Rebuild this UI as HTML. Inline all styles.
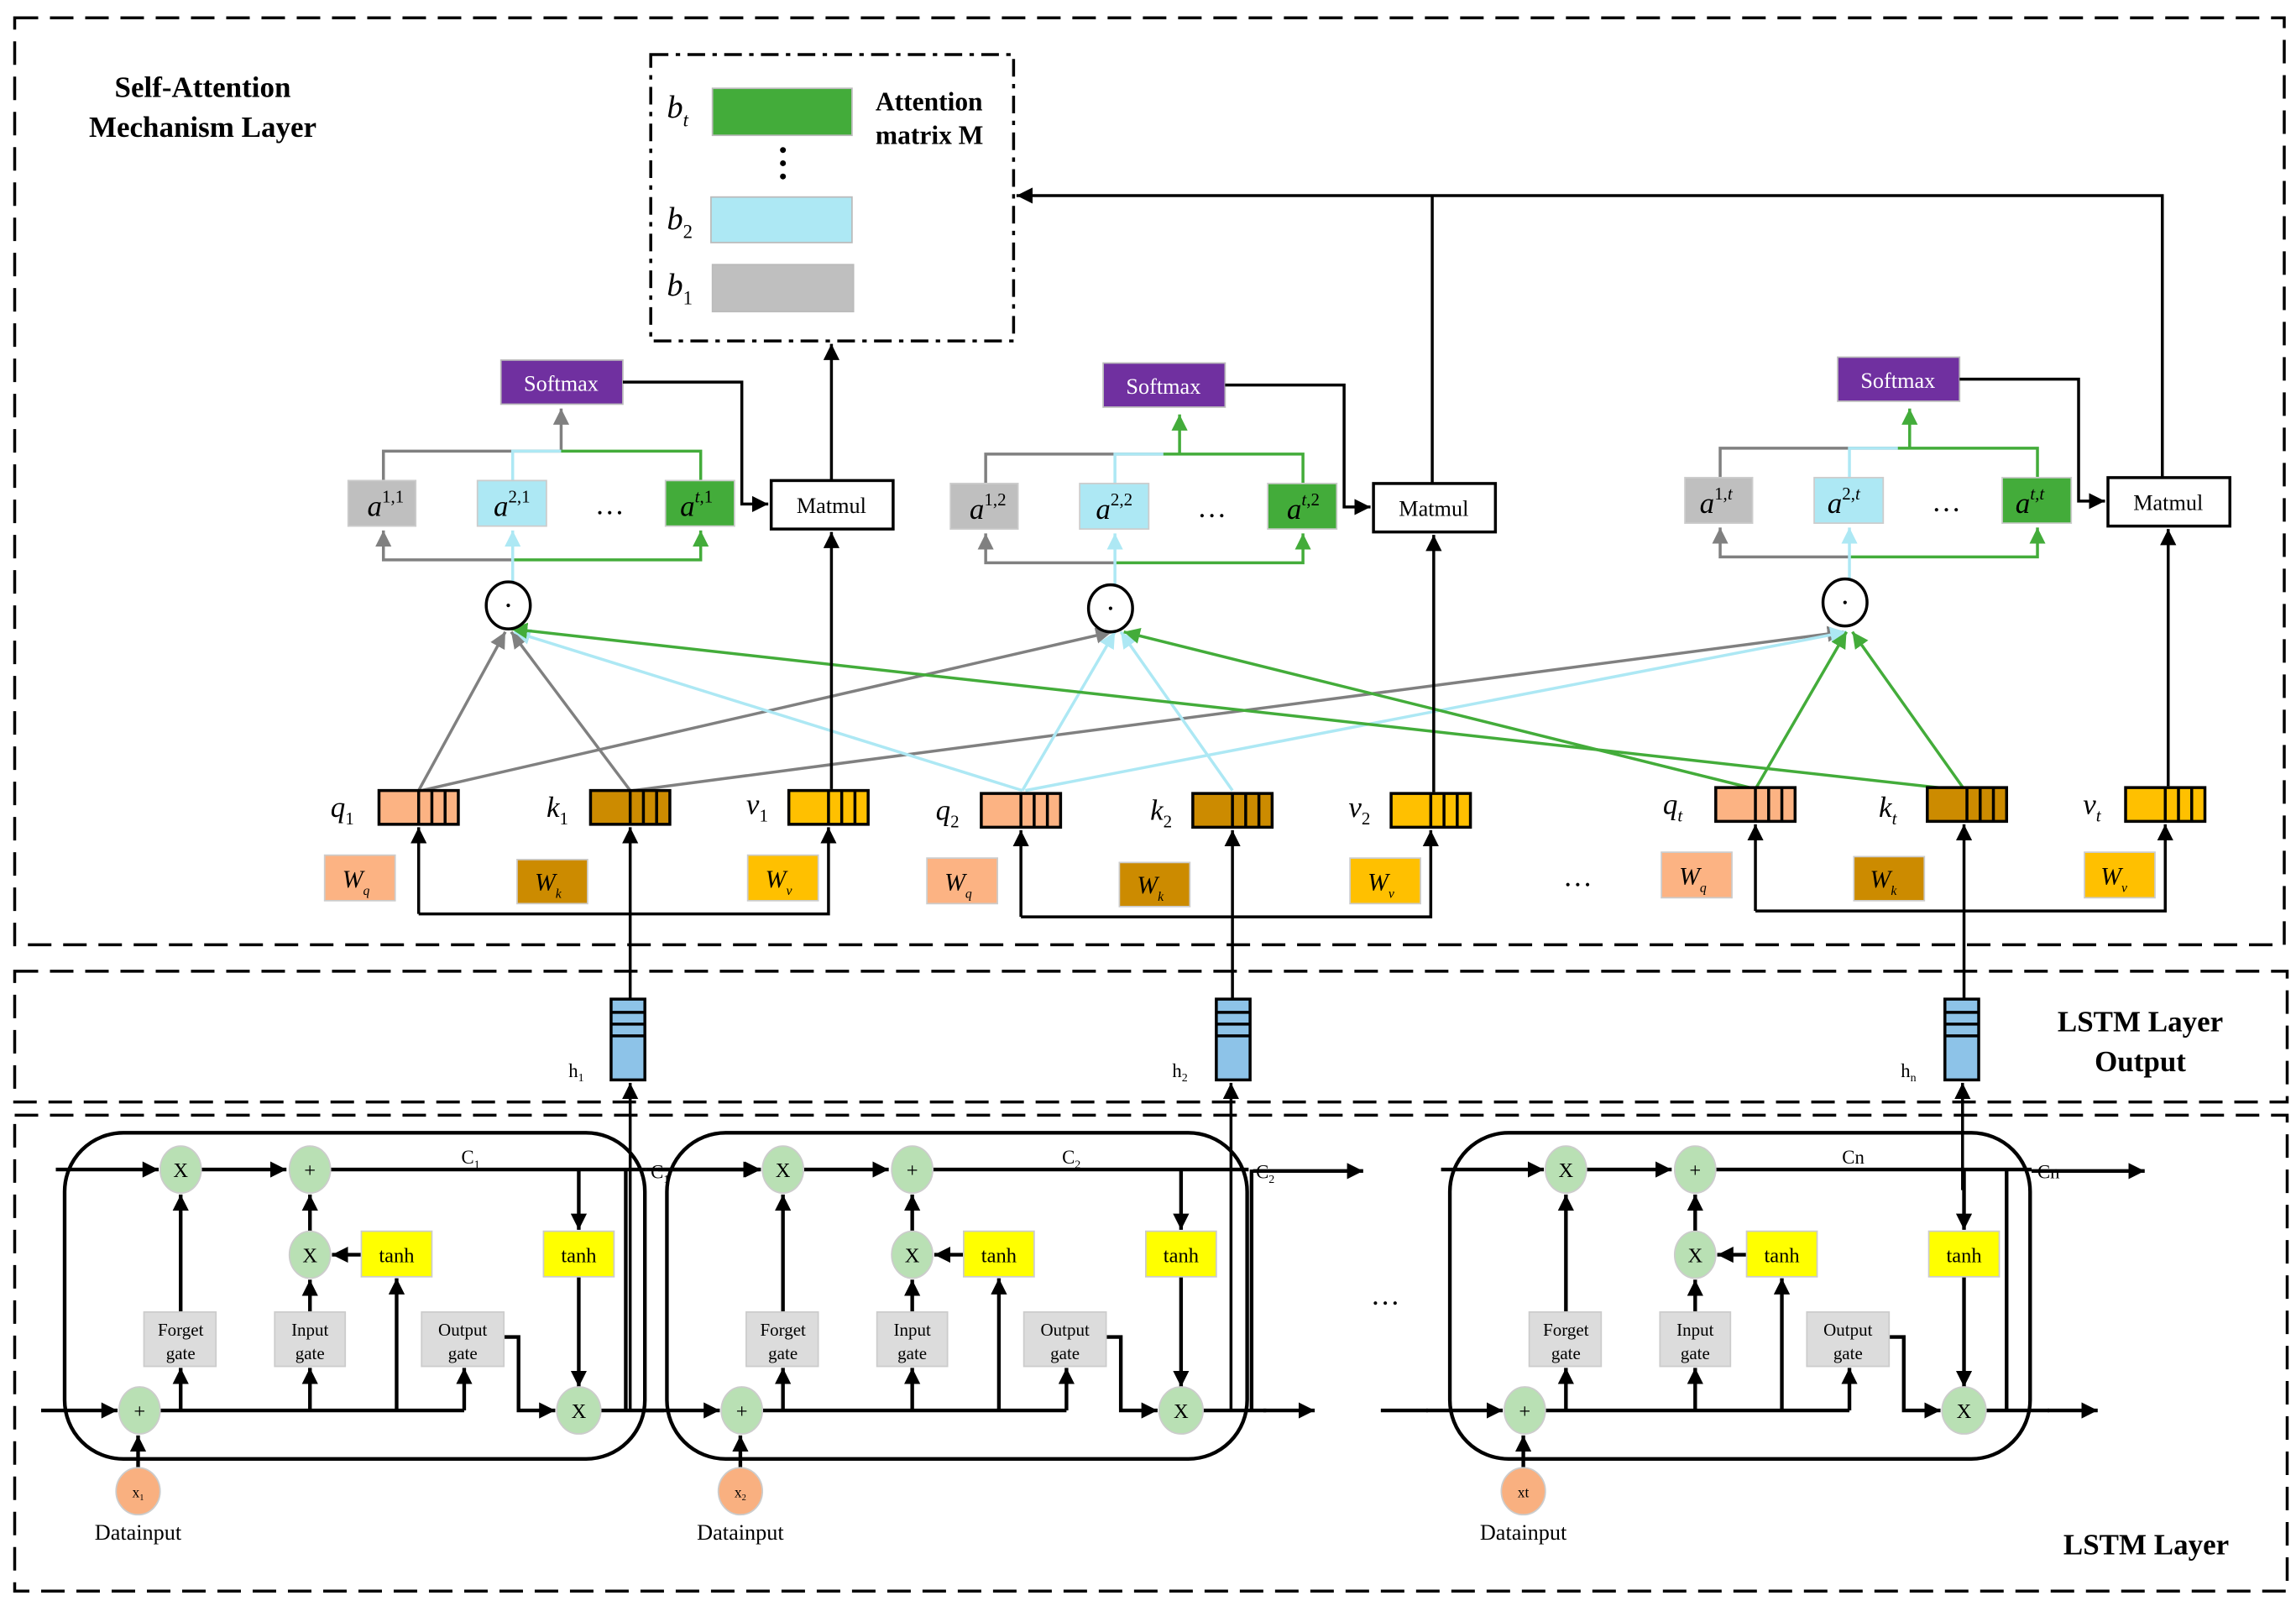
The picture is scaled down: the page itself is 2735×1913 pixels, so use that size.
<!DOCTYPE html>
<html><head><meta charset="utf-8"><style>
html,body{margin:0;padding:0;background:#fff}
svg{display:block}
</style></head><body>
<svg width="2735" height="1913" viewBox="0 0 1563 1093" xmlns="http://www.w3.org/2000/svg" font-family="'Liberation Serif', serif">
<defs>
<marker id="ak" viewBox="0 0 10 10" refX="10" refY="5" markerWidth="11" markerHeight="11" markerUnits="userSpaceOnUse" orient="auto"><path d="M0,0L10,5L0,10z" fill="#000"/></marker>
<marker id="ag" viewBox="0 0 10 10" refX="10" refY="5" markerWidth="11" markerHeight="11" markerUnits="userSpaceOnUse" orient="auto"><path d="M0,0L10,5L0,10z" fill="#808080"/></marker>
<marker id="ab" viewBox="0 0 10 10" refX="10" refY="5" markerWidth="11" markerHeight="11" markerUnits="userSpaceOnUse" orient="auto"><path d="M0,0L10,5L0,10z" fill="#ADE8F4"/></marker>
<marker id="agr" viewBox="0 0 10 10" refX="10" refY="5" markerWidth="11" markerHeight="11" markerUnits="userSpaceOnUse" orient="auto"><path d="M0,0L10,5L0,10z" fill="#43AC3A"/></marker>
</defs>

<g fill="none" stroke="#000" stroke-width="2" stroke-dasharray="16,8">
<rect x="10" y="12" width="1545" height="631"/>
<rect x="10" y="661" width="1547" height="89"/>
<rect x="10" y="759" width="1547" height="324"/>
</g>
<text x="138" y="66" font-size="20" font-weight="bold" text-anchor="middle">Self-Attention</text>
<text x="138" y="93" font-size="20" font-weight="bold" text-anchor="middle">Mechanism Layer</text>
<text x="1457" y="702" font-size="20" font-weight="bold" text-anchor="middle">LSTM Layer</text>
<text x="1457" y="729" font-size="20" font-weight="bold" text-anchor="middle">Output</text>
<text x="1461" y="1058" font-size="20" font-weight="bold" text-anchor="middle">LSTM Layer</text>

<rect x="443" y="37" width="247" height="195" fill="none" stroke="#000" stroke-width="2" stroke-dasharray="12,5,3,5"/>
<rect x="485" y="60" width="95" height="32" fill="#43AC3A" stroke="#bbb"/>
<rect x="484" y="134" width="96" height="31" fill="#ADE8F4" stroke="#bbb"/>
<rect x="485" y="180" width="96" height="32" fill="#BFBFBF" stroke="#bbb"/>
<circle cx="533" cy="102" r="2" fill="#000"/><circle cx="533" cy="111" r="2" fill="#000"/><circle cx="533" cy="120" r="2" fill="#000"/>
<text x="454" y="80" font-size="22" font-style="italic">b<tspan font-size="13" dy="6">t</tspan></text>
<text x="454" y="156" font-size="22" font-style="italic">b<tspan font-size="13" dy="6" font-style="normal">2</tspan></text>
<text x="454" y="201" font-size="22" font-style="italic">b<tspan font-size="13" dy="6" font-style="normal">1</tspan></text>
<text x="596" y="75" font-size="18" font-weight="bold">Attention</text>
<text x="596" y="98" font-size="18" font-weight="bold">matrix M</text>

<g fill="none" stroke="#000" stroke-width="2">
<path d="M566,327V234" marker-end="url(#ak)"/>
<path d="M1472,327V133H692" marker-end="url(#ak)"/>
<path d="M975,330V133"/>
</g>

<g fill="none" stroke-width="2">
<path d="M285,538L344,430" stroke="#808080" marker-end="url(#ag)"/>
<path d="M429,538L348,430" stroke="#808080" marker-end="url(#ag)"/>
<path d="M287,538L757,430" stroke="#808080" marker-end="url(#ag)"/>
<path d="M431,538L1255,430" stroke="#808080" marker-end="url(#ag)"/>
<path d="M696,538L350,430" stroke="#ADE8F4" marker-end="url(#ab)"/>
<path d="M696,538L759,430" stroke="#ADE8F4" marker-end="url(#ab)"/>
<path d="M839,538L763,430" stroke="#ADE8F4" marker-end="url(#ab)"/>
<path d="M698,538L1257,430" stroke="#ADE8F4" marker-end="url(#ab)"/>
<path d="M1337,538L348,428" stroke="#43AC3A" marker-end="url(#agr)"/>
<path d="M1195,537L765,430" stroke="#43AC3A" marker-end="url(#agr)"/>
<path d="M1195,537L1257,430" stroke="#43AC3A" marker-end="url(#agr)"/>
<path d="M1337,537L1261,430" stroke="#43AC3A" marker-end="url(#agr)"/>
</g>

<path d="M382,307V278" fill="none" stroke="#808080" stroke-width="2" marker-end="url(#ag)"/>
<path d="M803,309V282" fill="none" stroke="#43AC3A" stroke-width="2" marker-end="url(#agr)"/>
<path d="M1300,305V278" fill="none" stroke="#43AC3A" stroke-width="2" marker-end="url(#agr)"/>

<g id="blk">
<rect x="341" y="245" width="83" height="30" fill="#7030A0" stroke="#bbb"/>
<text x="382" y="266" font-size="15" fill="#fff" text-anchor="middle">Softmax</text>
<g fill="none" stroke-width="2">
<path d="M261,327V307H382" stroke="#808080"/>
<path d="M349,327V307H382" stroke="#ADE8F4"/>
<path d="M382,307H477V327" stroke="#43AC3A"/>
<path d="M349,381H261V361" stroke="#808080" marker-end="url(#ag)"/>
<path d="M349,381H477V361" stroke="#43AC3A" marker-end="url(#agr)"/>
<path d="M349,396V361" stroke="#ADE8F4" marker-end="url(#ab)"/>
<path d="M424,260H505V343H523" stroke="#000" marker-end="url(#ak)"/>
<path d="M566,537V362" stroke="#000" marker-end="url(#ak)"/>
<path d="M285,622V563" stroke="#000" marker-end="url(#ak)"/>
<path d="M285,622H564V563" stroke="#000" marker-end="url(#ak)"/>
</g>
<rect x="237" y="327" width="46" height="31" fill="#BFBFBF" stroke="#ccc"/>
<rect x="325" y="327" width="47" height="31" fill="#ADE8F4" stroke="#ccc"/>
<rect x="453" y="327" width="47" height="31" fill="#43AC3A" stroke="#ccc"/>
<text x="415" y="350" font-size="20" text-anchor="middle">…</text>
<rect x="525" y="327" width="83" height="33" fill="#fff" stroke="#000" stroke-width="2"/>
<text x="566" y="349" font-size="15" text-anchor="middle">Matmul</text>
<ellipse cx="346" cy="412" rx="15" ry="16" fill="#fff" stroke="#000" stroke-width="2"/>
<circle cx="346" cy="412" r="1.2" fill="#000"/>
<g stroke="#000" stroke-width="2">
<rect x="258" y="538" width="54" height="23" fill="#FCB383"/>
<path d="M285,538V561M294,538V561M303,538V561"/>
<rect x="402" y="538" width="54" height="23" fill="#CC8B00"/>
<path d="M429,538V561M438,538V561M447,538V561"/>
<rect x="537" y="538" width="54" height="23" fill="#FFC000"/>
<path d="M564,538V561M573,538V561M582,538V561"/>
</g>
<rect x="221" y="582" width="48" height="31" fill="#FCB383" stroke="#ccc"/>
<rect x="352" y="585" width="48" height="30" fill="#CC8B00" stroke="#ccc"/>
<rect x="509" y="582" width="48" height="31" fill="#FFC000" stroke="#ccc"/>
</g>
<use href="#blk" transform="translate(410,2)"/>
<use href="#blk" transform="translate(910,-2)"/>

<g font-size="20" font-style="italic">
<text x="250" y="351">a<tspan font-size="12" dy="-9" font-style="normal">1,1</tspan></text>
<text x="336" y="351">a<tspan font-size="12" dy="-9" font-style="normal">2,1</tspan></text>
<text x="463" y="351">a<tspan font-size="12" dy="-9">t</tspan><tspan font-size="12" font-style="normal">,1</tspan></text>
<text x="660" y="353">a<tspan font-size="12" dy="-9" font-style="normal">1,2</tspan></text>
<text x="746" y="353">a<tspan font-size="12" dy="-9" font-style="normal">2,2</tspan></text>
<text x="876" y="353">a<tspan font-size="12" dy="-9">t</tspan><tspan font-size="12" font-style="normal">,2</tspan></text>
<text x="1157" y="349">a<tspan font-size="12" dy="-9" font-style="normal">1,</tspan><tspan font-size="12">t</tspan></text>
<text x="1244" y="349">a<tspan font-size="12" dy="-9" font-style="normal">2,</tspan><tspan font-size="12">t</tspan></text>
<text x="1372" y="349">a<tspan font-size="12" dy="-9">t,t</tspan></text>
<text x="225" y="556">q<tspan font-size="12" dy="5" font-style="normal">1</tspan></text>
<text x="372" y="556">k<tspan font-size="12" dy="5" font-style="normal">1</tspan></text>
<text x="508" y="554">v<tspan font-size="12" dy="5" font-style="normal">1</tspan></text>
<text x="637" y="558">q<tspan font-size="12" dy="5" font-style="normal">2</tspan></text>
<text x="783" y="558">k<tspan font-size="12" dy="5" font-style="normal">2</tspan></text>
<text x="918" y="556">v<tspan font-size="12" dy="5" font-style="normal">2</tspan></text>
<text x="1132" y="554">q<tspan font-size="12" dy="5">t</tspan></text>
<text x="1279" y="556">k<tspan font-size="12" dy="5">t</tspan></text>
<text x="1418" y="554">v<tspan font-size="12" dy="5">t</tspan></text>
</g>
<g font-size="17" font-style="italic">
<text x="233" y="604">W<tspan font-size="9" dy="5">q</tspan></text>
<text x="364" y="606">W<tspan font-size="9" dy="5">k</tspan></text>
<text x="521" y="604">W<tspan font-size="9" dy="5">v</tspan></text>
<text x="643" y="606">W<tspan font-size="9" dy="5">q</tspan></text>
<text x="774" y="608">W<tspan font-size="9" dy="5">k</tspan></text>
<text x="931" y="606">W<tspan font-size="9" dy="5">v</tspan></text>
<text x="1143" y="602">W<tspan font-size="9" dy="5">q</tspan></text>
<text x="1273" y="604">W<tspan font-size="9" dy="5">k</tspan></text>
<text x="1430" y="602">W<tspan font-size="9" dy="5">v</tspan></text>
</g>
<text x="1074" y="603" font-size="20" text-anchor="middle">…</text>

<g fill="none" stroke="#000" stroke-width="2">
<path d="M429,960V737" marker-end="url(#ak)"/><path d="M429,680V563" marker-end="url(#ak)"/>
<path d="M838,960V737" marker-end="url(#ak)"/><path d="M839,680V565" marker-end="url(#ak)"/>
<path d="M1336,810V737" marker-end="url(#ak)"/><path d="M1337,680V561" marker-end="url(#ak)"/>
</g>
<g stroke="#000" stroke-width="2" fill="#8DC3E8">
<rect x="416" y="680" width="23" height="55"/><path d="M416,689H439M416,697H439M416,705H439"/>
<rect x="828" y="680" width="23" height="55"/><path d="M828,689H851M828,697H851M828,705H851"/>
<rect x="1324" y="680" width="23" height="55"/><path d="M1324,689H1347M1324,697H1347M1324,705H1347"/>
</g>
<g font-size="13">
<text x="387" y="733">h<tspan font-size="8" dy="3">1</tspan></text>
<text x="798" y="733">h<tspan font-size="8" dy="3">2</tspan></text>
<text x="1294" y="733">h<tspan font-size="8" dy="3">n</tspan></text>
</g>

<g id="cell">
<rect x="44" y="771" width="395" height="222" rx="40" fill="none" stroke="#000" stroke-width="2.5"/>
<g fill="none" stroke="#000" stroke-width="2.5">
<path d="M38,796H108" marker-end="url(#ak)"/>
<path d="M137,796H195" marker-end="url(#ak)"/>
<path d="M225,796H440"/>
<path d="M394,796V837" marker-end="url(#ak)"/>
<path d="M394,869V944" marker-end="url(#ak)"/>
<path d="M28,960H80" marker-end="url(#ak)"/>
<path d="M109,960H316"/>
<path d="M123,960V931" marker-end="url(#ak)"/>
<path d="M211,960V931" marker-end="url(#ak)"/>
<path d="M270,960V870" marker-end="url(#ak)"/>
<path d="M316,960V931" marker-end="url(#ak)"/>
<path d="M123,893V813" marker-end="url(#ak)"/>
<path d="M211,893V871" marker-end="url(#ak)"/>
<path d="M211,838V813" marker-end="url(#ak)"/>
<path d="M246,854H226" marker-end="url(#ak)"/>
<path d="M343,910H353V960H378" marker-end="url(#ak)"/>
<path d="M409,960H452"/>
<path d="M94,1000V977" marker-end="url(#ak)"/>
</g>
<g fill="#B9E0B4" stroke="#ccc">
<ellipse cx="123" cy="796" rx="14" ry="16"/>
<ellipse cx="211" cy="796" rx="14" ry="16"/>
<ellipse cx="211" cy="854" rx="14" ry="16"/>
<ellipse cx="95" cy="960" rx="14" ry="16"/>
<ellipse cx="394" cy="960" rx="15" ry="16"/>
</g>
<ellipse cx="94" cy="1015" rx="15" ry="16" fill="#F9B080" stroke="#ccc"/>
<rect x="246" y="838" width="48" height="31" fill="#FFFF00" stroke="#ccc"/>
<rect x="370" y="838" width="48" height="31" fill="#FFFF00" stroke="#ccc"/>
<rect x="98" y="893" width="49" height="37" fill="#DCDCDC" stroke="#ccc"/>
<rect x="187" y="893" width="48" height="37" fill="#DCDCDC" stroke="#ccc"/>
<rect x="287" y="893" width="56" height="37" fill="#DCDCDC" stroke="#ccc"/>
<g font-size="14" text-anchor="middle">
<text x="123" y="801">X</text><text x="211" y="801">+</text><text x="211" y="859">X</text>
<text x="95" y="965">+</text><text x="394" y="965">X</text>
<text x="270" y="859">tanh</text><text x="394" y="859">tanh</text>
</g>
<g font-size="12" text-anchor="middle">
<text x="123" y="909">Forget</text><text x="123" y="925">gate</text>
<text x="211" y="909">Input</text><text x="211" y="925">gate</text>
<text x="315" y="909">Output</text><text x="315" y="925">gate</text>
</g>
<text x="94" y="1048" font-size="15" text-anchor="middle">Datainput</text>
</g>
<use href="#cell" transform="translate(410,0)"/>
<use href="#cell" transform="translate(943,0)"/>

<g fill="none" stroke="#000" stroke-width="2.5">
<path d="M426,796V960"/>
<path d="M852,796V960"/>
<path d="M1366,796V960"/>
<path d="M440,796H517" marker-end="url(#ak)"/>
<path d="M853,797H928" marker-end="url(#ak)"/>
<path d="M860,960H895" marker-end="url(#ak)"/>
<path d="M1383,797H1460" marker-end="url(#ak)"/>
<path d="M1394,960H1428" marker-end="url(#ak)"/>
<path d="M940,960H972"/>
</g>
<g font-size="13">
<text x="314" y="792">C<tspan font-size="8" dy="3">1</tspan></text>
<text x="443" y="802">C<tspan font-size="8" dy="3">1</tspan></text>
<text x="723" y="792">C<tspan font-size="8" dy="3">2</tspan></text>
<text x="855" y="802">C<tspan font-size="8" dy="3">2</tspan></text>
<text x="1254" y="792">Cn</text>
<text x="1387" y="802">Cn</text>
</g>
<g font-size="10" text-anchor="middle">
<text x="94" y="1019">x<tspan font-size="6" dy="2">1</tspan></text>
<text x="504" y="1019">x<tspan font-size="6" dy="2">2</tspan></text>
<text x="1037" y="1019">xt</text>
</g>
<text x="943" y="888" font-size="20" text-anchor="middle">…</text>
</svg>
</body></html>
